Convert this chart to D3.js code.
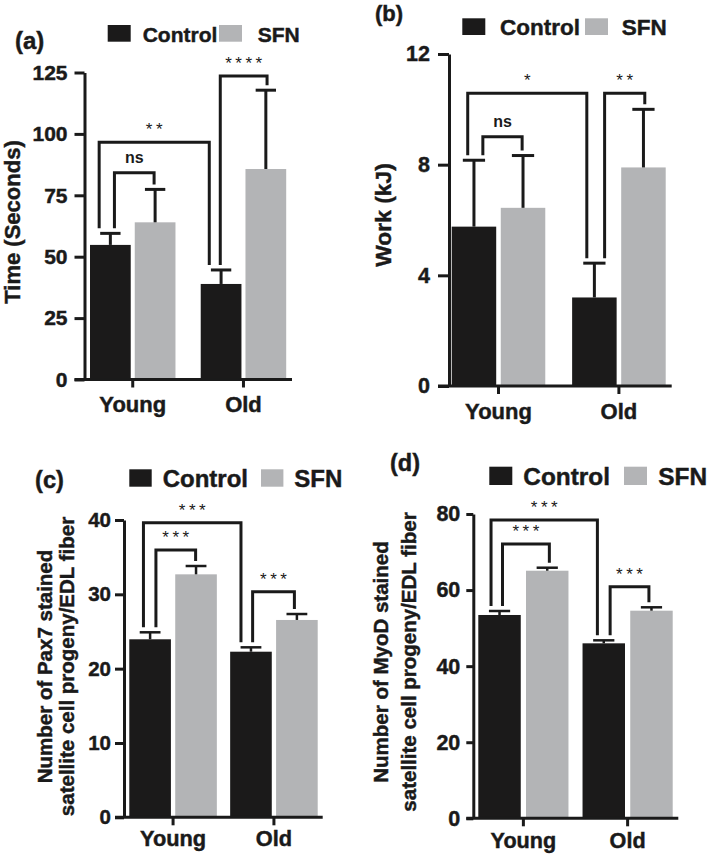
<!DOCTYPE html>
<html>
<head>
<meta charset="utf-8">
<script src="https://cdn.jsdelivr.net/npm/d3@7"></script>
<style>
  html, body { margin: 0; padding: 0; background: #fff; }
  svg { display: block; }
  text { font-family: "Liberation Sans", Arial, Helvetica, sans-serif; fill: #1a1a1a; }
  text.heavy { stroke: #1a1a1a; stroke-width: 0.45px; }
</style>
</head>
<body>
<svg id="chart" width="709" height="857"></svg>
<script>
// ---------- DATA ----------
const groups = ["Young", "Old"];
const seriesNames = ["Control", "SFN"];

// (a) Time (Seconds)
const timeTicks = [0, 25, 50, 75, 100, 125];
const timeControl = [54.8, 38.9];
const timeControlSEM = [4.7, 5.7];
const timeSFN = [64.0, 85.7];
const timeSFNSEM = [13.4, 32.1];
const timeSig = ["ns", "**", "****"];

// (b) Work (kJ)
const workTicks = [0, 4, 8, 12];
const workControl = [5.76, 3.20];
const workControlSEM = [2.40, 1.24];
const workSFN = [6.44, 7.90];
const workSFNSEM = [1.89, 2.10];
const workSig = ["ns", "*", "**"];

// (c) Pax7
const pax7Ticks = [0, 10, 20, 30, 40];
const pax7Control = [23.95, 22.28];
const pax7ControlSEM = [0.94, 0.59];
const pax7SFN = [32.69, 26.55];
const pax7SFNSEM = [1.12, 0.80];
const pax7Sig = ["***", "***", "***"];

// (d) MyoD
const myodTicks = [0, 20, 40, 60, 80];
const myodControl = [53.45, 46.0];
const myodControlSEM = [1.05, 0.79];
const myodSFN = [65.09, 54.58];
const myodSFNSEM = [0.79, 0.89];
const myodSig = ["***", "***", "***"];

// ---------- LAYOUT ----------
const COLORS = { Control: "#1b1a1a", SFN: "#b3b4b6" };
const INK = "#1a1a1a";
const svg = d3.select("#chart");

function drawPanel(p) {
  const g = svg.append("g");
  const y = d3.scaleLinear().domain([0, d3.max(p.ticks)]).range([p.y0, p.yTop]);
  const x = d3.scaleBand().domain(groups).range(p.xRange).paddingInner(p.padOuterGroups).paddingOuter(0);
  const xs = d3.scaleBand().domain(seriesNames).range([0, x.bandwidth()]).paddingInner(p.padInner).paddingOuter(0);

  const rows = [];
  groups.forEach((gr, i) => {
    rows.push({ group: gr, series: "Control", v: p.control[i], e: p.controlErr[i] });
    rows.push({ group: gr, series: "SFN", v: p.sfn[i], e: p.sfnErr[i] });
  });
  const bx = (gr, s) => x(gr) + xs(s);
  const bw = xs.bandwidth();

  // bars
  g.selectAll("rect.bar").data(rows).join("rect")
    .attr("class", "bar")
    .attr("x", d => bx(d.group, d.series))
    .attr("y", d => y(d.v))
    .attr("width", bw)
    .attr("height", d => y(0) - y(d.v))
    .attr("fill", d => COLORS[d.series]);

  // error bars (upper only)
  const capW = bw * 0.5;
  rows.forEach(d => {
    const cx = bx(d.group, d.series) + bw / 2;
    g.append("line").attr("x1", cx).attr("x2", cx)
      .attr("y1", y(d.v)).attr("y2", y(d.v + d.e))
      .attr("stroke", INK).attr("stroke-width", p.errW);
    g.append("line").attr("x1", cx - capW / 2).attr("x2", cx + capW / 2)
      .attr("y1", y(d.v + d.e)).attr("y2", y(d.v + d.e))
      .attr("stroke", INK).attr("stroke-width", p.errW);
  });

  // y axis
  const ya = g.append("g").attr("transform", `translate(${p.axisX},0)`)
    .call(d3.axisLeft(y).tickValues(p.ticks).tickFormat(d3.format("d"))
      .tickSize(p.tickLen).tickSizeOuter(0).tickPadding(p.tickPad));
  ya.selectAll("path, line").attr("stroke", INK).attr("stroke-width", 3);
  ya.selectAll("text").attr("class", "heavy").attr("font-size", p.tickFont).attr("font-weight", "bold")
    .attr("fill", INK).style("font-family", "Liberation Sans, Arial, sans-serif");

  // x axis
  g.append("line").attr("x1", p.axisX - p.tickLen).attr("x2", p.xEnd)
    .attr("y1", p.y0).attr("y2", p.y0).attr("stroke", INK).attr("stroke-width", 3);
  const xa = g.append("g").attr("transform", `translate(0,${p.y0})`)
    .call(d3.axisBottom(x).tickSize(8).tickSizeOuter(0).tickPadding(p.xLabPad));
  xa.select(".domain").remove();
  xa.selectAll("line").attr("stroke", INK).attr("stroke-width", 3);
  xa.selectAll("text").attr("class", "heavy").attr("font-size", p.xFont).attr("font-weight", "bold")
    .attr("fill", INK).style("font-family", "Liberation Sans, Arial, sans-serif");

  // significance brackets
  const gap = 5;
  p.brackets.forEach((b, k) => {
    const [ga, sa, fa] = b.a, [gb, sb, fb] = b.b;
    const x1 = bx(ga, sa) + bw * fa, x2 = bx(gb, sb) + bw * fb;
    const ra = rows.find(r => r.group === ga && r.series === sa);
    const rb = rows.find(r => r.group === gb && r.series === sb);
    const yb = y(b.level);
    const ya1 = y(ra.v + ra.e) - gap, yb1 = y(rb.v + rb.e) - gap;
    g.append("path")
      .attr("d", `M${x1},${ya1}V${yb}H${x2}V${yb1}`)
      .attr("fill", "none").attr("stroke", INK).attr("stroke-width", 3)
      .attr("stroke-linejoin", "miter");
    const lab = p.sig[k];
    const isNs = lab === "ns";
    g.append("text")
      .attr("x", (x1 + x2) / 2 + (isNs ? 0 : 1.75))
      .attr("y", yb - (isNs ? 10 : 7))
      .attr("text-anchor", "middle")
      .attr("font-size", isNs ? 16 : 17)
      .attr("font-weight", isNs ? "bold" : "normal")
      .attr("letter-spacing", isNs ? 0 : 3.5)
      .attr("fill", isNs ? INK : "#333")
      .text(lab);
  });

  // legend
  const L = p.legend;
  g.append("rect").attr("x", L.x1).attr("y", L.y).attr("width", L.sw).attr("height", L.sh).attr("fill", COLORS.Control);
  g.append("text").attr("class", "heavy").attr("x", L.t1).attr("y", L.y + L.sh).attr("font-size", L.font).attr("font-weight", "bold").text(seriesNames[0]);
  g.append("rect").attr("x", L.x2).attr("y", L.y).attr("width", L.sw).attr("height", L.sh).attr("fill", COLORS.SFN);
  g.append("text").attr("class", "heavy").attr("x", L.t2).attr("y", L.y + L.sh).attr("font-size", L.font).attr("font-weight", "bold").text(seriesNames[1]);

  // panel label
  g.append("text").attr("class", "heavy").attr("x", p.tag.x).attr("y", p.tag.y).attr("font-size", p.tag.font)
    .attr("font-weight", "bold").text(p.tag.text);

  // y title
  p.yTitle.lines.forEach((t, i) => {
    g.append("text").attr("class", "heavy")
      .attr("transform", `translate(${p.yTitle.xs[i]},${p.yTitle.cy}) rotate(-90)`)
      .attr("text-anchor", "middle")
      .attr("font-size", p.yTitle.font).attr("font-weight", "bold")
      .text(t);
  });
}

drawPanel({
  ticks: timeTicks, control: timeControl, controlErr: timeControlSEM, sfn: timeSFN, sfnErr: timeSFNSEM, sig: timeSig,
  y0: 379.5, yTop: 72.5, axisX: 84.5, xRange: [90, 286.2], xEnd: 292, padOuterGroups: 0.228, padInner: 0.09,
  tickLen: 10, tickPad: 7, tickFont: 21, xFont: 22, xLabPad: 9, errW: 3,
  brackets: [
    { a: ["Young", "Control", 0.6], b: ["Young", "SFN", 0.475], level: 84.2 },
    { a: ["Young", "Control", 0.225], b: ["Old", "Control", 0.21], level: 96.6 },
    { a: ["Old", "Control", 0.48], b: ["Old", "SFN", 0.53], level: 123.6 }
  ],
  legend: { x1: 107.7, x2: 219, y: 25, sw: 23, sh: 16.7, t1: 142.7, t2: 257.7, font: 21 },
  tag: { x: 15, y: 48.5, font: 24, text: "(a)" },
  yTitle: { lines: ["Time (Seconds)"], xs: [19.5], cy: 222, font: 22 }
});

drawPanel({
  ticks: workTicks, control: workControl, controlErr: workControlSEM, sfn: workSFN, sfnErr: workSFNSEM, sig: workSig,
  y0: 386, yTop: 54, axisX: 449, xRange: [451.7, 665.7], xEnd: 671.7, padOuterGroups: 0.223, padInner: 0.093,
  tickLen: 11, tickPad: 8, tickFont: 21.5, xFont: 22, xLabPad: 9, errW: 3,
  brackets: [
    { a: ["Young", "Control", 0.70], b: ["Young", "SFN", 0.48], level: 9.01 },
    { a: ["Young", "Control", 0.36], b: ["Old", "Control", 0.33], level: 10.58 },
    { a: ["Old", "Control", 0.73], b: ["Old", "SFN", 0.53], level: 10.58 }
  ],
  legend: { x1: 462.3, x2: 585, y: 18.3, sw: 23, sh: 16.7, t1: 500, t2: 621.7, font: 22.5 },
  tag: { x: 375, y: 21, font: 22, text: "(b)" },
  yTitle: { lines: ["Work (kJ)"], xs: [390.5], cy: 215, font: 22.8 }
});

drawPanel({
  ticks: pax7Ticks, control: pax7Control, controlErr: pax7ControlSEM, sfn: pax7SFN, sfnErr: pax7SFNSEM, sig: pax7Sig,
  y0: 817.3, yTop: 520, axisX: 124, xRange: [129.3, 317.7], xEnd: 322.7, padOuterGroups: 0.132, padInner: 0.094,
  tickLen: 9, tickPad: 4, tickFont: 20.5, xFont: 21.8, xLabPad: 5, errW: 2.5,
  brackets: [
    { a: ["Young", "Control", 0.64], b: ["Young", "SFN", 0.49], level: 35.96 },
    { a: ["Young", "Control", 0.34], b: ["Old", "Control", 0.26], level: 39.64 },
    { a: ["Old", "Control", 0.54], b: ["Old", "SFN", 0.44], level: 30.35 }
  ],
  legend: { x1: 129.3, x2: 261, y: 469.3, sw: 22.4, sh: 17.4, t1: 162.7, t2: 294.3, font: 24 },
  tag: { x: 35, y: 488, font: 23.7, text: "(c)" },
  yTitle: { lines: ["Number of Pax7 stained", "satellite cell progeny/EDL fiber"], xs: [51.7, 74.3], cy: 666.5, font: 20.5 }
});

drawPanel({
  ticks: myodTicks, control: myodControl, controlErr: myodControlSEM, sfn: myodSFN, sfnErr: myodSFNSEM, sig: myodSig,
  y0: 818.3, yTop: 514, axisX: 473.3, xRange: [478.3, 672.7], xEnd: 678.3, padOuterGroups: 0.135, padInner: 0.11,
  tickLen: 7, tickPad: 6, tickFont: 21.5, xFont: 21.6, xLabPad: 6, errW: 2.5,
  brackets: [
    { a: ["Young", "Control", 0.57], b: ["Young", "SFN", 0.55], level: 72.1 },
    { a: ["Young", "Control", 0.30], b: ["Old", "Control", 0.35], level: 78.4 },
    { a: ["Old", "Control", 0.65], b: ["Old", "SFN", 0.44], level: 60.9 }
  ],
  legend: { x1: 489.3, x2: 624, y: 466.7, sw: 23, sh: 18.3, t1: 523.3, t2: 658.3, font: 24.4 },
  tag: { x: 390, y: 471, font: 23.5, text: "(d)" },
  yTitle: { lines: ["Number of MyoD stained", "satellite cell progeny/EDL fiber"], xs: [388, 416.2], cy: 662, font: 20.5 }
});
</script>
</body>
</html>
